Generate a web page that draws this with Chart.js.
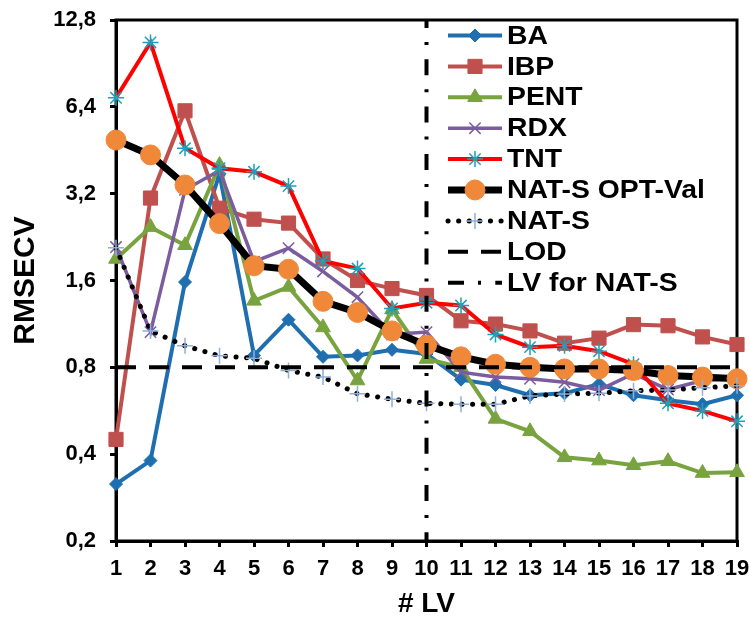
<!DOCTYPE html>
<html>
<head>
<meta charset="utf-8">
<script src="https://cdn.jsdelivr.net/npm/chart.js@4.4.1/dist/chart.umd.min.js"></script>
<style>
html,body{margin:0;padding:0;background:#ffffff;}
#wrap{width:749px;height:621px;}
</style>
</head>
<body>
<div id="wrap"><canvas id="c" width="749" height="621"></canvas></div>
<script>
// ---- data ----
const categories = ['1','2','3','4','5','6','7','8','9','10','11','12','13','14','15','16','17','18','19'];
const yTicks = [0.2, 0.4, 0.8, 1.6, 3.2, 6.4, 12.8];
const yTickLabels = ['0,2', '0,4', '0,8', '1,6', '3,2', '6,4', '12,8'];
const yMin = 0.2;
const yMax = 12.8;

const BA   = [0.315, 0.38, 1.58, 3.75, 0.88, 1.17, 0.87, 0.88, 0.92, 0.89, 0.725, 0.695, 0.64, 0.65, 0.70, 0.64, 0.615, 0.596, 0.64];
const IBP  = [0.45, 3.09, 6.2, 2.85, 2.61, 2.53, 1.9, 1.6, 1.5, 1.42, 1.16, 1.13, 1.07, 0.97, 1.01, 1.125, 1.115, 1.02, 0.96];
const PENT = [1.9, 2.45, 2.12, 4.02, 1.36, 1.52, 1.10, 0.72, 1.27, 0.855, 0.80, 0.53, 0.48, 0.39, 0.38, 0.366, 0.378, 0.344, 0.346];
const RDX  = [2.09, 1.06, 3.3, 3.85, 1.86, 2.07, 1.72, 1.4, 1.04, 1.06, 0.77, 0.74, 0.73, 0.71, 0.667, 0.76, 0.67, 0.72, 0.73];
const TNT  = [6.88, 10.7, 4.6, 3.92, 3.81, 3.4, 1.87, 1.76, 1.28, 1.34, 1.31, 1.04, 0.94, 0.95, 0.91, 0.82, 0.60, 0.565, 0.52];
const NAT_S_OPT_VAL = [4.91, 4.36, 3.43, 2.52, 1.8, 1.75, 1.355, 1.24, 1.07, 0.955, 0.87, 0.82, 0.80, 0.79, 0.79, 0.78, 0.75, 0.74, 0.73];
const NAT_S = [2.08, 1.07, 0.95, 0.877, 0.86, 0.78, 0.74, 0.648, 0.62, 0.60, 0.596, 0.596, 0.637, 0.647, 0.65, 0.664, 0.667, 0.68, 0.69];
const LOD_VALUE = 0.8;
const LV_FOR_NAT_S = '10';

// ---- styles ----
const FONT = "'Liberation Sans', Arial, sans-serif";
Chart.defaults.font.family = FONT;
Chart.defaults.color = '#000000';

const C_BA = '#1F6FB0', C_IBP = '#C0504D', C_PENT = '#78A33E', C_RDX = '#7B5C9E',
      C_TNT = '#FF0000', C_TNT_M = '#1FA0B8', C_ORANGE = '#F0883A', C_NATS_M = '#8EB0DA';

const datasets = [
  {label:'BA', data: BA, borderColor: C_BA, borderWidth: 4, pointStyle:'rectRot', pointRadius: 6.5,
   pointBackgroundColor: C_BA, pointBorderColor: C_BA, pointBorderWidth: 1, order: 9},
  {label:'IBP', data: IBP, borderColor: C_IBP, borderWidth: 4, pointStyle:'rect', pointRadius: 10,
   pointBackgroundColor: C_IBP, pointBorderColor: C_IBP, pointBorderWidth: 1, order: 8},
  {label:'PENT', data: PENT, borderColor: C_PENT, borderWidth: 4, pointStyle:'triangle', pointRadius: 8.5,
   pointBackgroundColor: C_PENT, pointBorderColor: C_PENT, pointBorderWidth: 1, order: 7},
  {label:'RDX', data: RDX, borderColor: C_RDX, borderWidth: 3.5, pointStyle:'crossRot', pointRadius: 8,
   pointBackgroundColor: C_RDX, pointBorderColor: C_RDX, pointBorderWidth: 1.5, order: 6},
  {label:'TNT', data: TNT, borderColor: C_TNT, borderWidth: 4, pointStyle:'star', pointRadius: 8,
   pointBackgroundColor: C_TNT_M, pointBorderColor: C_TNT_M, pointBorderWidth: 1.5, order: 5},
  {label:'NAT-S OPT-Val', data: NAT_S_OPT_VAL, borderColor: '#000000', borderWidth: 7, pointStyle:'circle', pointRadius: 10,
   pointBackgroundColor: C_ORANGE, pointBorderColor: C_ORANGE, pointBorderWidth: 1, order: 4},
  {label:'NAT-S', data: NAT_S, borderColor: '#000000', borderWidth: 5, borderDash:[0.1, 10.5], borderCapStyle:'round',
   pointStyle:'cross', pointRadius: 8, pointBackgroundColor: C_NATS_M, pointBorderColor: C_NATS_M, pointBorderWidth: 1.5, order: 3},
  {label:'LOD', data: categories.map(() => LOD_VALUE), borderColor: '#000000', borderWidth: 4, borderDash:[20, 13],
   pointRadius: 0, order: 2},
  {label:'LV for NAT-S', data: [{x: LV_FOR_NAT_S, y: yMax}, {x: LV_FOR_NAT_S, y: yMin}], borderColor: '#000000', borderWidth: 4,
   borderDash:[16, 14, 3, 14.3], borderDashOffset: 8, pointRadius: 0, order: 1}
];
datasets.forEach(d => { d.fill = false; d.tension = 0; d.clip = false; d.pointHoverRadius = d.pointRadius; });

// frame around plot area
const framePlugin = {
  id: 'frame',
  beforeDatasetsDraw(chart) {
    const a = chart.chartArea, ctx = chart.ctx;
    ctx.save();
    ctx.strokeStyle = '#000'; ctx.lineWidth = 3;
    ctx.strokeRect(a.left, a.top, a.right - a.left, a.bottom - a.top);
    ctx.restore();
  }
};

// legend drawn inside the plot (line sample + marker + text)
const legendPlugin = {
  id: 'insideLegend',
  afterDraw(chart) {
    const ctx = chart.ctx;
    const x0 = 448, x1 = 502, tx = 507, y0 = 35.5, dy = 30.9;
    chart.data.datasets.forEach((ds, i) => {
      const y = y0 + i * dy;
      ctx.save();
      ctx.strokeStyle = ds.borderColor;
      ctx.lineWidth = ds.borderWidth;
      ctx.setLineDash(ds.borderDash || []);
      ctx.lineCap = ds.borderCapStyle || 'butt';
      ctx.beginPath(); ctx.moveTo(x0, y); ctx.lineTo(x1, y); ctx.stroke();
      ctx.setLineDash([]);
      ctx.lineCap = 'butt';
      if (ds.pointRadius > 0) {
        ctx.fillStyle = ds.pointBackgroundColor;
        ctx.strokeStyle = ds.pointBorderColor;
        ctx.lineWidth = ds.pointBorderWidth;
        Chart.helpers.drawPoint(ctx, {pointStyle: ds.pointStyle, radius: ds.pointRadius,
          borderWidth: ds.pointBorderWidth, rotation: 0}, (x0 + x1) / 2, y);
      }
      ctx.fillStyle = '#000';
      ctx.font = 'bold 26px ' + FONT;
      ctx.textBaseline = 'middle';
      ctx.textAlign = 'left';
      ctx.translate(tx, y + 1);
      ctx.scale(1.09, 1);
      ctx.fillText(ds.label, 0, 0);
      ctx.restore();
    });
  }
};

new Chart(document.getElementById('c'), {
  type: 'line',
  data: { labels: categories, datasets: datasets },
  options: {
    responsive: false,
    animation: false,
    devicePixelRatio: 1,
    layout: { padding: { top: 20, right: 12, bottom: 0, left: 0 } },
    plugins: { legend: { display: false }, tooltip: { enabled: false } },
    scales: {
      x: {
        type: 'category',
        offset: false,
        border: { display: true, color: '#000', width: 3 },
        grid: { display: true, drawOnChartArea: false, drawTicks: true, tickLength: 6, color: '#000', lineWidth: 3 },
        ticks: { font: { size: 22, weight: 'bold' }, color: '#000', padding: 9, maxRotation: 0, autoSkip: false },
        title: { display: true, text: '# LV', font: { size: 28, weight: 'bold' }, color: '#000', padding: { top: 0, bottom: 0 } },
        afterFit(scale) { scale.height = 80; scale.paddingLeft = 0; scale.paddingRight = 0; }
      },
      y: {
        type: 'logarithmic',
        min: yMin,
        max: yMax,
        border: { display: true, color: '#000', width: 3 },
        grid: { display: true, drawOnChartArea: false, drawTicks: true, tickLength: 6, color: '#000', lineWidth: 3 },
        afterBuildTicks(scale) { scale.ticks = yTicks.map(v => ({ value: v })); },
        ticks: {
          font: { size: 22, weight: 'bold' }, color: '#000', padding: 14,
          callback: (value) => { const i = yTicks.indexOf(value); return i >= 0 ? yTickLabels[i] : ''; }
        },
        title: { display: true, text: 'RMSECV', font: { size: 30, weight: 'bold' }, color: '#000', padding: { top: 8, bottom: 0 } },
        afterFit(scale) { scale.width = 116; scale.paddingTop = 0; scale.paddingBottom = 0; }
      }
    }
  },
  plugins: [framePlugin, legendPlugin]
});
</script>
</body>
</html>
